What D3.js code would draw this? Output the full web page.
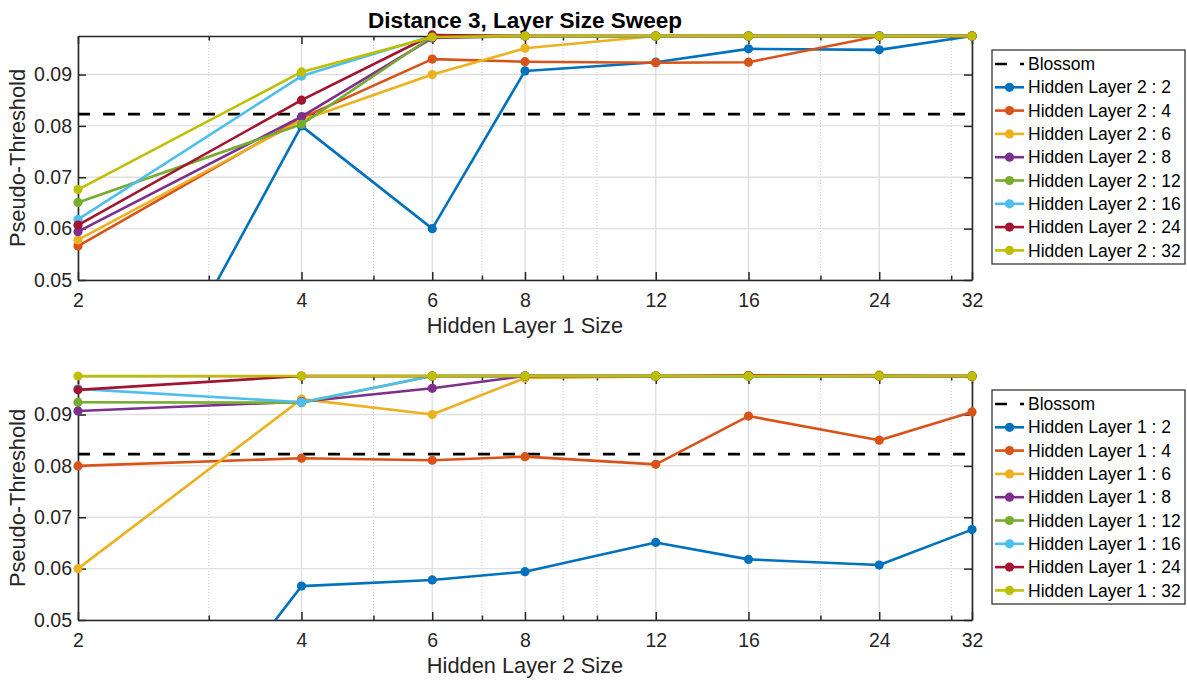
<!DOCTYPE html>
<html>
<head>
<meta charset="utf-8">
<script src="https://cdn.jsdelivr.net/npm/d3@7"></script>
<style>
  html, body { margin: 0; padding: 0; background: #fff; }
  svg { display: block; font-family: "Liberation Sans", Arial, Helvetica, sans-serif; }
</style>
</head>
<body>
<svg id="chart" width="1187" height="681"></svg>
<script>
// Layer sizes swept on both hidden layers
const layerSizes = [2, 4, 6, 8, 12, 16, 24, 32];

// Pseudo-threshold for each Hidden Layer 1 size, indexed by Hidden Layer 2 size
const hl1_2  = [0.0000, 0.0566, 0.0578, 0.0594, 0.0651, 0.0618, 0.0607, 0.0676];
const hl1_4  = [0.0800, 0.0815, 0.0811, 0.0818, 0.0803, 0.0897, 0.0850, 0.0905];
const hl1_6  = [0.0600, 0.0930, 0.0900, 0.0971, 0.0974, 0.0975, 0.0977, 0.0973];
const hl1_8  = [0.0907, 0.0925, 0.0951, 0.0975, 0.0975, 0.0975, 0.0975, 0.0975];
const hl1_12 = [0.0924, 0.0923, 0.0975, 0.0975, 0.0975, 0.0974, 0.0975, 0.0975];
const hl1_16 = [0.0950, 0.0924, 0.0975, 0.0975, 0.0975, 0.0975, 0.0975, 0.0975];
const hl1_24 = [0.0948, 0.0975, 0.0975, 0.0975, 0.0975, 0.0976, 0.0975, 0.0975];
const hl1_32 = [0.0975, 0.0975, 0.0975, 0.0975, 0.0975, 0.0975, 0.0975, 0.0975];

// Blossom decoder reference threshold
const blossom = 0.0823;

const yTicks = [0.05, 0.06, 0.07, 0.08, 0.09];
const xMinorTicks = [3, 5, 7, 9, 10, 20, 30];
const yLimits = [0.05, 0.0975];

const colors = ["#0072BD", "#D95319", "#EDB120", "#7E2F8E", "#77AC30", "#4DBEEE", "#A2142F", "#BFBF00"];

const rows = [hl1_2, hl1_4, hl1_6, hl1_8, hl1_12, hl1_16, hl1_24, hl1_32];

// Top panel: x = Hidden Layer 1, one line per Hidden Layer 2 size
const topSeries = layerSizes.map((s, j) => ({
  label: "Hidden Layer 2 : " + s,
  values: rows.map(r => r[j])
}));
// Bottom panel: x = Hidden Layer 2, one line per Hidden Layer 1 size
const bottomSeries = layerSizes.map((s, i) => ({
  label: "Hidden Layer 1 : " + s,
  values: rows[i]
}));

const svg = d3.select("#chart");
const axisColor = "#262626";
const left = 78, right = 972;

const x = d3.scaleLog().base(2).domain([2, 32]).range([left, right]);

svg.append("text")
  .attr("x", (left + right) / 2).attr("y", 28)
  .attr("text-anchor", "middle")
  .attr("font-size", 22.5).attr("font-weight", "bold").attr("fill", "#000")
  .text("Distance 3, Layer Size Sweep");

const panels = [
  { top: 36, bottom: 280, xlabel: "Hidden Layer 1 Size", series: topSeries, legendTop: 50, id: "p1" },
  { top: 376, bottom: 620, xlabel: "Hidden Layer 2 Size", series: bottomSeries, legendTop: 390, id: "p2" }
];

panels.forEach(p => {
  const y = d3.scaleLinear().domain(yLimits).range([p.bottom, p.top]);
  const g = svg.append("g");

  // grid
  const grid = g.append("g");
  grid.selectAll("line.minor").data(xMinorTicks).join("line")
    .attr("x1", d => x(d)).attr("x2", d => x(d))
    .attr("y1", p.top).attr("y2", p.bottom)
    .attr("stroke", "#c8c8c8").attr("stroke-width", 1).attr("stroke-dasharray", "1,2");
  grid.selectAll("line.vx").data(layerSizes).join("line")
    .attr("x1", d => x(d)).attr("x2", d => x(d))
    .attr("y1", p.top).attr("y2", p.bottom)
    .attr("stroke", "#dfdfdf").attr("stroke-width", 1.4);
  g.append("g").selectAll("line").data(yTicks).join("line")
    .attr("x1", left).attr("x2", right)
    .attr("y1", d => y(d)).attr("y2", d => y(d))
    .attr("stroke", "#dfdfdf").attr("stroke-width", 1.4);

  // axes with inward ticks on all four sides
  const styleAxis = sel => {
    sel.selectAll("path.domain").attr("stroke", axisColor).attr("stroke-width", 1.6);
    sel.selectAll(".tick line").attr("stroke", axisColor).attr("stroke-width", 1.5);
    sel.selectAll("text").attr("fill", axisColor).attr("font-size", 19.5)
      .attr("font-family", "Liberation Sans, Arial, sans-serif");
  };
  g.append("g").attr("transform", `translate(0,${p.bottom})`)
    .call(d3.axisBottom(x).tickValues(layerSizes).tickSizeInner(-8).tickSizeOuter(0)
      .tickPadding(13).tickFormat(d3.format("d")))
    .call(styleAxis);
  g.append("g").attr("transform", `translate(0,${p.bottom})`)
    .call(d3.axisBottom(x).tickValues(xMinorTicks).tickSizeInner(-4.5).tickSizeOuter(0).tickFormat(""))
    .call(styleAxis).select("path.domain").remove();
  g.append("g").attr("transform", `translate(0,${p.top})`)
    .call(d3.axisTop(x).tickValues(layerSizes).tickSizeInner(-8).tickSizeOuter(0).tickFormat(""))
    .call(styleAxis);
  g.append("g").attr("transform", `translate(0,${p.top})`)
    .call(d3.axisTop(x).tickValues(xMinorTicks).tickSizeInner(-4.5).tickSizeOuter(0).tickFormat(""))
    .call(styleAxis).select("path.domain").remove();
  g.append("g").attr("transform", `translate(${left},0)`)
    .call(d3.axisLeft(y).tickValues(yTicks).tickSizeInner(-8).tickSizeOuter(0)
      .tickPadding(6).tickFormat(d3.format(".2f")))
    .call(styleAxis);
  g.append("g").attr("transform", `translate(${right},0)`)
    .call(d3.axisRight(y).tickValues(yTicks).tickSizeInner(-8).tickSizeOuter(0).tickFormat(""))
    .call(styleAxis);

  // axis labels
  g.append("text")
    .attr("x", (left + right) / 2).attr("y", p.bottom + 53)
    .attr("text-anchor", "middle").attr("font-size", 21.8).attr("fill", axisColor)
    .text(p.xlabel);
  g.append("text")
    .attr("transform", `translate(25,${(p.top + p.bottom) / 2}) rotate(-90)`)
    .attr("text-anchor", "middle").attr("font-size", 21.8).attr("fill", axisColor)
    .text("Pseudo-Threshold");

  // clip data to the plotting area (allow line thickness at the upper limit)
  svg.append("clipPath").attr("id", "clip-" + p.id)
    .append("rect").attr("x", left - 10).attr("y", p.top - 10)
    .attr("width", right - left + 20).attr("height", p.bottom - p.top + 10);

  const data = g.append("g").attr("clip-path", `url(#clip-${p.id})`);

  data.append("line")
    .attr("x1", left).attr("x2", right)
    .attr("y1", y(blossom)).attr("y2", y(blossom))
    .attr("stroke", "#000").attr("stroke-width", 2.6).attr("stroke-dasharray", "12,13");

  const line = d3.line().x((d, i) => x(layerSizes[i])).y(d => y(d));

  p.series.forEach((s, k) => {
    data.append("path")
      .attr("d", line(s.values))
      .attr("fill", "none").attr("stroke", colors[k]).attr("stroke-width", 2.6)
      .attr("stroke-linejoin", "round");
    data.selectAll(null)
      .data(s.values.map((v, i) => ({ v, i })).filter(d => d.v >= yLimits[0]))
      .join("circle")
      .attr("cx", d => x(layerSizes[d.i])).attr("cy", d => y(d.v))
      .attr("r", 4.6).attr("fill", colors[k]);
  });

  // legend
  const lg = svg.append("g");
  const lx = 992, lw = 193, lh = 214;
  lg.append("rect").attr("x", lx).attr("y", p.legendTop).attr("width", lw).attr("height", lh)
    .attr("fill", "#fff").attr("stroke", axisColor).attr("stroke-width", 1.2);
  const rowY = i => p.legendTop + 14 + i * 23.3;
  lg.append("line").attr("x1", 995).attr("x2", 1024).attr("y1", rowY(0)).attr("y2", rowY(0))
    .attr("stroke", "#000").attr("stroke-width", 2.6).attr("stroke-dasharray", "12,13");
  lg.append("text").attr("x", 1028).attr("y", rowY(0)).attr("dy", "0.35em")
    .attr("font-size", 17.5).attr("fill", "#000").text("Blossom");
  p.series.forEach((s, k) => {
    const yy = rowY(k + 1);
    lg.append("line").attr("x1", 995).attr("x2", 1024).attr("y1", yy).attr("y2", yy)
      .attr("stroke", colors[k]).attr("stroke-width", 2.6);
    lg.append("circle").attr("cx", 1009.5).attr("cy", yy).attr("r", 4.6).attr("fill", colors[k]);
    lg.append("text").attr("x", 1028).attr("y", yy).attr("dy", "0.35em")
      .attr("font-size", 17.5).attr("fill", "#000").text(s.label);
  });
});
</script>
</body>
</html>
